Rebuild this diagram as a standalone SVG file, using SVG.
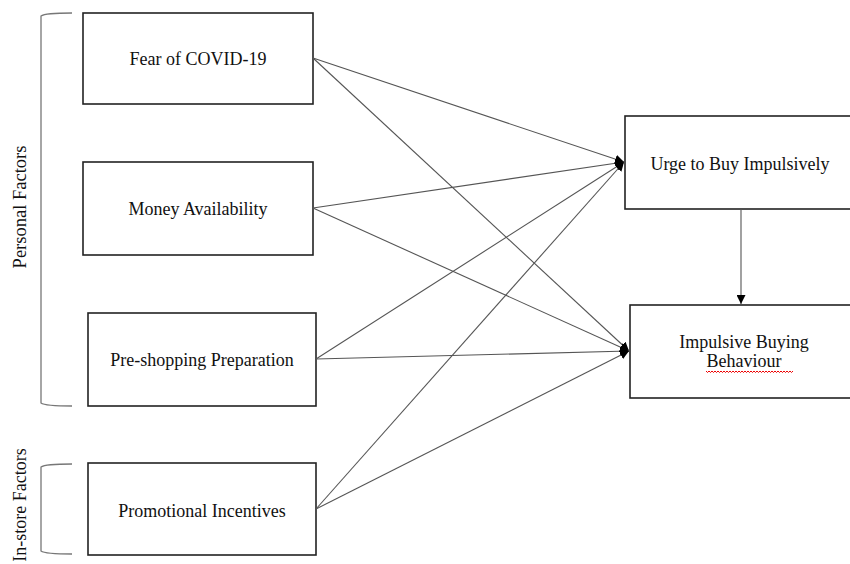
<svg xmlns="http://www.w3.org/2000/svg" width="850" height="564" viewBox="0 0 850 564">
<style>
.box{fill:#fff;stroke:#222;stroke-width:1.6}
.t{font-family:"Liberation Serif","Times New Roman",Times,serif;font-size:18px;fill:#111;text-anchor:middle}
.s{font-size:18.5px}
.c{stroke:#555;stroke-width:1.1;fill:none}
.br{stroke:#777;stroke-width:1.3;fill:none}
</style>
<defs>
<marker id="ah" viewBox="0 0 10 10" refX="10" refY="5" markerWidth="9" markerHeight="9" markerUnits="userSpaceOnUse" orient="auto">
<path d="M0,0 L10,5 L0,10 z" fill="#000"/>
</marker>
</defs>
<rect width="850" height="564" fill="#fff"/>
<g id="brackets">
<path class="br" d="M72,13 Q45,13 41,16 L41,403 Q45,406 72,406"/>
<path class="br" d="M72,464 Q45,464 41,467 L41,551 Q45,554 72,554"/>
<text class="t s" transform="translate(26,207) rotate(-90)">Personal Factors</text>
<text class="t" transform="translate(26,505) rotate(-90)">In-store Factors</text>
</g>
<g id="fear"><rect class="box" x="83" y="13" width="230" height="91"/><text class="t" x="198" y="65">Fear of COVID-19</text></g>
<g id="money"><rect class="box" x="83" y="162" width="230" height="93"/><text class="t" x="198" y="215">Money Availability</text></g>
<g id="prep"><rect class="box" x="88" y="313" width="228" height="93"/><text class="t" x="202" y="366">Pre-shopping Preparation</text></g>
<g id="promo"><rect class="box" x="88" y="463" width="228" height="92"/><text class="t" x="202" y="517">Promotional Incentives</text></g>
<g id="urge"><rect class="box" x="625" y="116" width="230" height="93"/><text class="t" x="740" y="170">Urge to Buy Impulsively</text></g>
<g id="ibb"><rect class="box" x="630" y="305" width="225" height="93"/><text class="t" x="744" y="348">Impulsive Buying</text><text class="t" x="744" y="367">Behaviour</text>
<path d="M706,371 l1.5,1.5 l1.5,-1.5 l1.5,1.5 l1.5,-1.5 l1.5,1.5 l1.5,-1.5 l1.5,1.5 l1.5,-1.5 l1.5,1.5 l1.5,-1.5 l1.5,1.5 l1.5,-1.5 l1.5,1.5 l1.5,-1.5 l1.5,1.5 l1.5,-1.5 l1.5,1.5 l1.5,-1.5 l1.5,1.5 l1.5,-1.5 l1.5,1.5 l1.5,-1.5 l1.5,1.5 l1.5,-1.5 l1.5,1.5 l1.5,-1.5 l1.5,1.5 l1.5,-1.5 l1.5,1.5 l1.5,-1.5 l1.5,1.5 l1.5,-1.5 l1.5,1.5 l1.5,-1.5 l1.5,1.5 l1.5,-1.5 l1.5,1.5 l1.5,-1.5 l1.5,1.5 l1.5,-1.5 l1.5,1.5 l1.5,-1.5 l1.5,1.5 l1.5,-1.5 l1.5,1.5 l1.5,-1.5 l1.5,1.5 l1.5,-1.5 l1.5,1.5 l1.5,-1.5 l1.5,1.5 l1.5,-1.5 l1.5,1.5 l1.5,-1.5 l1.5,1.5 l1.5,-1.5 l1.5,1.5 l1.5,-1.5" stroke="#e00" stroke-width="1" fill="none"/></g>
<g id="connectors">
<line class="c" x1="313" y1="58" x2="624" y2="162" marker-end="url(#ah)"/>
<line class="c" x1="313" y1="58" x2="629" y2="351" marker-end="url(#ah)"/>
<line class="c" x1="313" y1="208" x2="624" y2="162" marker-end="url(#ah)"/>
<line class="c" x1="313" y1="208" x2="629" y2="351" marker-end="url(#ah)"/>
<line class="c" x1="316" y1="359" x2="624" y2="162" marker-end="url(#ah)"/>
<line class="c" x1="316" y1="359" x2="629" y2="351" marker-end="url(#ah)"/>
<line class="c" x1="316" y1="509" x2="624" y2="162" marker-end="url(#ah)"/>
<line class="c" x1="316" y1="509" x2="629" y2="351" marker-end="url(#ah)"/>
<line class="c" x1="741" y1="209" x2="741" y2="304" marker-end="url(#ah)"/>
</g>
</svg>
